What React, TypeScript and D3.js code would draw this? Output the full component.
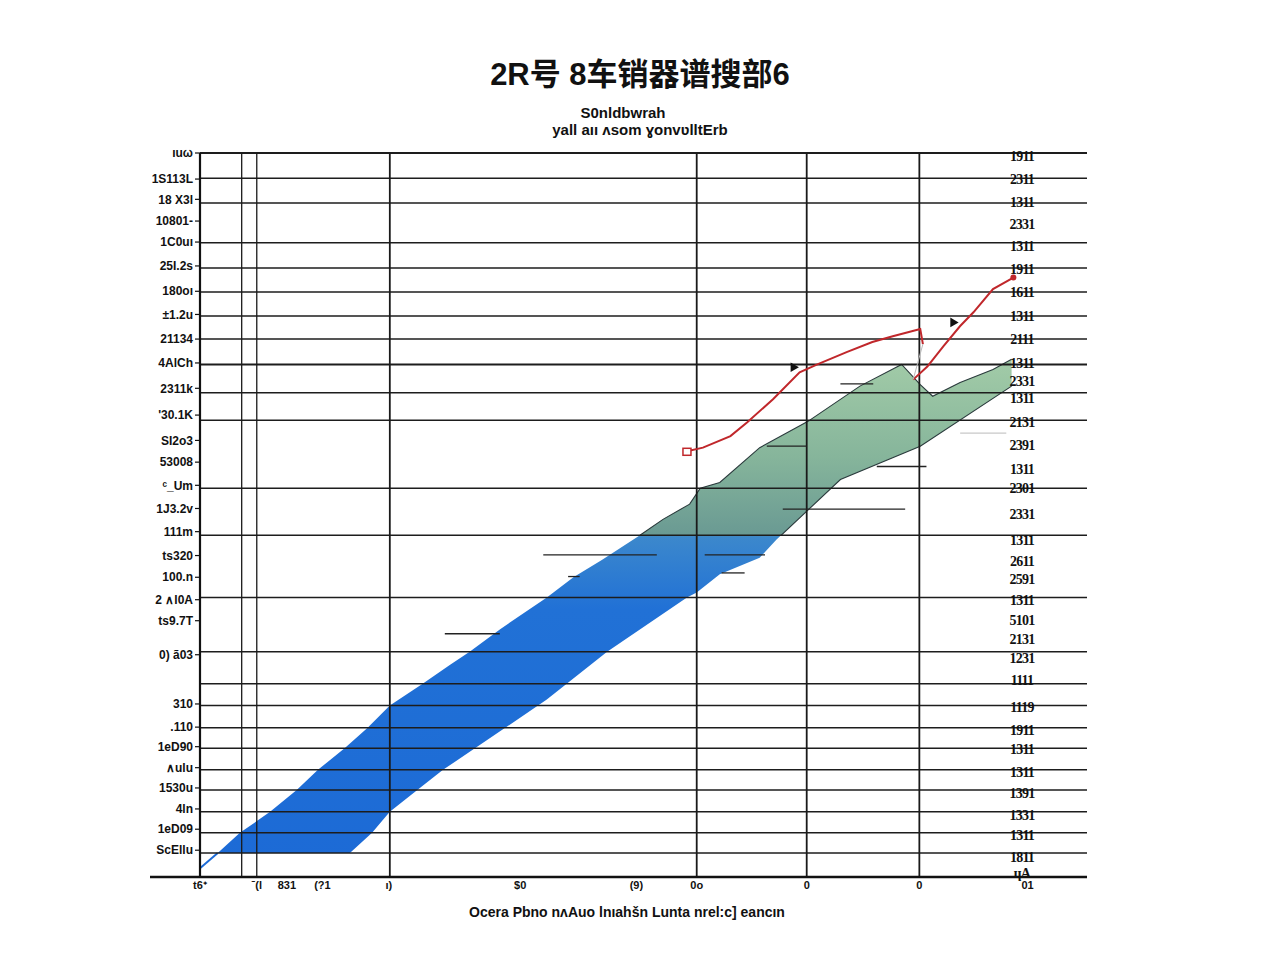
import React from "react";
import * as d3 from "d3";

const titleText = "2R号 8车销器谱搜部6";
const subtitleLine1 = "S0nldbwrah";
const subtitleLine2 = "yall aıı ʌsom ɣonvʋlltErb";
const xAxisTitle = "Ocera Pbno nʌAuo lnıahšn Lunta nrel:c] eancın";

// horizontal grid values (y domain 0..100)
const gridValues = [100, 96.5, 93.1, 87.6, 84.1, 80.8, 77.5, 74.3, 70.8, 66.9, 63.1, 53.7, 47.2, 38.6, 31.1, 26.7, 23.7, 20.6, 17.8, 14.8, 12.0, 9.0, 6.1, 3.3];
// vertical grid values (x domain 0..100)
const verticalValues = [4.7, 6.4, 21.4, 56.0, 68.4, 81.1];

const leftLabelValues = [100, 96.4, 93.6, 90.6, 87.7, 84.4, 80.9, 77.7, 74.3, 71.0, 67.5, 63.8, 60.3, 57.3, 54.1, 50.9, 47.7, 44.4, 41.4, 38.3, 35.4, 30.7, 23.9, 20.7, 18.0, 15.1, 12.3, 9.4, 6.6, 3.7];
const leftLabels = ["ıuω", "1S113L", "18 X3l", "10801-", "1C0uı", "25I.2s", "180oı", "±1.2u", "21134", "4AlCh", "2311k", "'30.1K", "SI2o3", "53008", "ᶜ_Um", "1J3.2v", "111m", "ts320", "100.n", "2 ∧l0A", "ts9.7T", "0) ã03", "310", ".110", "1eD90", "∧ulu", "1530u", "4ln", "1eD09", "ScEllu"];

const rightLabelValues = [99.6, 96.4, 93.2, 90.2, 87.1, 84.0, 80.8, 77.5, 74.3, 71.0, 68.5, 66.1, 62.9, 59.6, 56.4, 53.7, 50.1, 46.6, 43.6, 41.1, 38.3, 35.5, 32.8, 30.3, 27.2, 23.5, 20.3, 17.6, 14.5, 11.6, 8.6, 5.8, 2.8, 0.6];
const rightLabels = ["1911", "2311", "1311", "2331", "1311", "1911", "1611", "1311", "2111", "1311", "2331", "1311", "2131", "2391", "1311", "2301", "2331", "1311", "2611", "2591", "1311", "5101", "2131", "1231", "1111", "1119", "1911", "1311", "1311", "1391", "1331", "1311", "1811", "ɥA"];

const bottomLabelValues = [0, 6.4, 9.8, 13.8, 21.3, 36.1, 49.2, 56.0, 68.4, 81.1, 93.3];
const bottomLabels = ["t6ᐩ", "ˉ(l", "831", "(?1", "ı)", "$0", "(9)", "0o", "0", "0", "01"];

// band (upper and lower edges)
const bandUpperX = [0, 2.0, 4.5, 7.9, 10.9, 13.3, 16.3, 18.9, 21.4, 25.1, 28.2, 30.4, 33.8, 39.1, 42.1, 45.3, 49.6, 52.2, 55.2, 56.4, 58.6, 63.1, 68.5, 74.4, 79.1, 81.2, 82.6, 85.7, 89.4, 91.5];
const bandUpperY = [1.2, 3.3, 6.1, 9.0, 12.0, 14.8, 17.8, 20.6, 23.7, 26.7, 29.3, 31.1, 34.2, 38.6, 41.4, 43.8, 47.2, 49.4, 51.5, 53.7, 54.5, 59.3, 62.9, 67.8, 70.8, 68.0, 66.4, 68.3, 70.1, 71.5];
const bandLowerX = [2.0, 16.9, 19.4, 21.4, 24.5, 27.4, 39.1, 45.9, 54.9, 56.0, 58.6, 63.1, 65.0, 72.2, 81.2, 91.5];
const bandLowerY = [3.3, 3.3, 6.1, 9.0, 12.0, 14.8, 24.5, 31.1, 38.6, 39.3, 41.8, 44.1, 46.6, 54.9, 59.5, 67.8];

// red line, two pieces
const redAX = [54.9, 56.7, 59.8, 61.7, 64.6, 67.6, 69.6, 72.9, 75.8, 78.1, 81.2, 81.5];
const redAY = [58.8, 59.3, 60.9, 62.8, 66.0, 69.7, 70.8, 72.5, 73.9, 74.7, 75.7, 73.6];
const redBX = [80.4, 82.0, 83.8, 85.7, 87.2, 89.4, 91.7];
const redBY = [68.7, 70.5, 73.3, 76.1, 78.0, 81.2, 82.8];

// short reference segments
const segX0 = [38.7, 56.9, 58.8, 41.5, 27.6, 65.7, 63.9, 72.2, 76.3, 85.7];
const segX1 = [51.5, 63.7, 61.4, 42.8, 33.8, 79.5, 68.4, 75.9, 81.9, 90.9];
const segY = [44.5, 44.5, 42.0, 41.5, 33.6, 50.8, 59.5, 68.1, 56.7, 61.3];

const markerX = [66.9, 84.9];
const markerY = [70.4, 76.6];

export default function App() {
  const W = 1280;
  const H = 960;
  const x = d3.scaleLinear().domain([0, 100]).range([200, 1087]);
  const y = d3.scaleLinear().domain([0, 100]).range([877, 153]);

  const line = d3
    .line<[number, number]>()
    .x((d) => x(d[0]))
    .y((d) => y(d[1]));

  const upper: [number, number][] = bandUpperX.map((v, i) => [v, bandUpperY[i]]);
  const lower: [number, number][] = bandLowerX.map((v, i) => [v, bandLowerY[i]]);
  const polygon = [...upper, ...lower.slice().reverse()];
  const bandPath = line(polygon) + "Z";
  const upperPath = line(upper) || "";
  const lowerPath = line(lower) || "";

  const redA = line(redAX.map((v, i) => [v, redAY[i]] as [number, number])) || "";
  const redB = line(redBX.map((v, i) => [v, redBY[i]] as [number, number])) || "";

  const tri = d3.symbol().type(d3.symbolTriangle).size(40)() || "";

  const condensed = "'Liberation Sans Narrow', 'Liberation Sans', Arial, sans-serif";

  return (
    <svg
      width={W}
      height={H}
      viewBox={`0 0 ${W} ${H}`}
      style={{ position: "absolute", left: 0, top: 0, background: "#fff" }}
    >
      <defs>
        <linearGradient id="bandGrad" gradientUnits="userSpaceOnUse" x1={0} x2={0} y1={y(0)} y2={y(72)}>
          <stop offset={0} stopColor="#1c6ad6" />
          <stop offset={37 / 72} stopColor="#2171d6" />
          <stop offset={47.0 / 72} stopColor="#3c88cc" />
          <stop offset={47.3 / 72} stopColor="#6a9a93" />
          <stop offset={58 / 72} stopColor="#86b59b" />
          <stop offset={1} stopColor="#a3cca8" />
        </linearGradient>
        <clipPath id="greenClip">
          <rect x={x(0)} y={y(100)} width={x(100) - x(0)} height={y(47.2) - y(100)} />
        </clipPath>
      </defs>

      {/* band */}
      <path d={bandPath} fill="url(#bandGrad)" stroke="none" />
      <g clipPath="url(#greenClip)">
        <path d={upperPath} fill="none" stroke="#2a3a3c" strokeWidth={1.1} />
        <path d={lowerPath} fill="none" stroke="#2a3a3c" strokeWidth={1.1} />
      </g>
      <path d={line([[0, 1.2], [2.0, 3.3]])!} stroke="#1c6ad6" strokeWidth={2} fill="none" />

      {/* horizontal grid */}
      {gridValues.map((v, i) => (
        <line
          key={"g" + i}
          x1={x(0)}
          x2={x(100)}
          y1={y(v)}
          y2={y(v)}
          stroke="#1d1d1d"
          strokeWidth={v === 70.8 || v === 100 ? 2 : 1.5}
        />
      ))}
      {/* vertical grid */}
      {verticalValues.map((v, i) => (
        <line
          key={"v" + i}
          x1={x(v)}
          x2={x(v)}
          y1={y(100)}
          y2={y(0)}
          stroke="#1a1a1a"
          strokeWidth={i < 2 ? 1.3 : 1.8}
        />
      ))}

      {/* short reference segments */}
      {segX0.map((v, i) => (
        <line
          key={"s" + i}
          x1={x(v)}
          x2={x(segX1[i])}
          y1={y(segY[i])}
          y2={y(segY[i])}
          stroke={i === 9 ? "#c8c8c8" : "#222"}
          strokeWidth={1.3}
        />
      ))}

      {/* red line */}
      <path d={redA} fill="none" stroke="#c0272b" strokeWidth={2} />
      <path d={redB} fill="none" stroke="#c0272b" strokeWidth={2} />
      <line
        x1={x(redAX[redAX.length - 1])}
        x2={x(redBX[0])}
        y1={y(redAY[redAY.length - 1])}
        y2={y(redBY[0])}
        stroke="#bbbbbb"
        strokeWidth={1}
      />
      <rect
        x={x(redAX[0]) - 4}
        y={y(redAY[0]) - 3}
        width={8}
        height={7}
        fill="#fff"
        stroke="#c0272b"
        strokeWidth={1.5}
      />
      <circle cx={x(redBX[redBX.length - 1])} cy={y(redBY[redBY.length - 1])} r={3} fill="#c0272b" />

      {markerX.map((v, i) => (
        <path key={"m" + i} d={tri} transform={`translate(${x(v)},${y(markerY[i])}) rotate(-30)`} fill="#111" />
      ))}

      {/* axes */}
      <line x1={x(0)} x2={x(0)} y1={y(100)} y2={y(0)} stroke="#111" strokeWidth={2.2} />
      <line x1={150} x2={x(100)} y1={y(0)} y2={y(0)} stroke="#111" strokeWidth={2.5} />

      {/* left labels + ticks */}
      {leftLabelValues.map((v, i) => (
        <g key={"l" + i}>
          <line x1={x(0) - 5} x2={x(0)} y1={y(v)} y2={y(v)} stroke="#111" strokeWidth={1.2} />
          <text
            x={x(0) - 7}
            y={y(v)}
            dy="0.35em"
            textAnchor="end"
            fontFamily={condensed}
            fontWeight={700}
            fontSize={12}
            fill="#111"
          >
            {leftLabels[i]}
          </text>
        </g>
      ))}

      {/* right labels */}
      {rightLabelValues.map((v, i) => (
        <text
          key={"r" + i}
          x={1022}
          y={y(v)}
          dy="0.35em"
          textAnchor="middle"
          fontFamily="'Liberation Serif', serif"
          fontWeight={700}
          fontSize={14}
          letterSpacing={-0.8}
          fill="#111"
        >
          {rightLabels[i]}
        </text>
      ))}

      {/* bottom labels */}
      {bottomLabelValues.map((v, i) => (
        <text
          key={"b" + i}
          x={x(v)}
          y={y(0) + 12}
          textAnchor="middle"
          fontFamily={condensed}
          fontWeight={700}
          fontSize={11}
          fill="#111"
        >
          {bottomLabels[i]}
        </text>
      ))}

      {/* titles */}
      <text
        x={640}
        y={85}
        textAnchor="middle"
        fontFamily="'Liberation Sans', 'Noto Sans CJK SC', sans-serif"
        fontWeight={700}
        fontSize={31}
        fill="#111"
      >
        {titleText}
      </text>
      <text x={623} y={118} textAnchor="middle" fontFamily={condensed} fontWeight={700} fontSize={15} fill="#111">
        {subtitleLine1}
      </text>
      <text x={640} y={135} textAnchor="middle" fontFamily={condensed} fontWeight={700} fontSize={15} fill="#111">
        {subtitleLine2}
      </text>
      <text x={627} y={917} textAnchor="middle" fontFamily={condensed} fontWeight={700} fontSize={14} fill="#111">
        {xAxisTitle}
      </text>
    </svg>
  );
}
